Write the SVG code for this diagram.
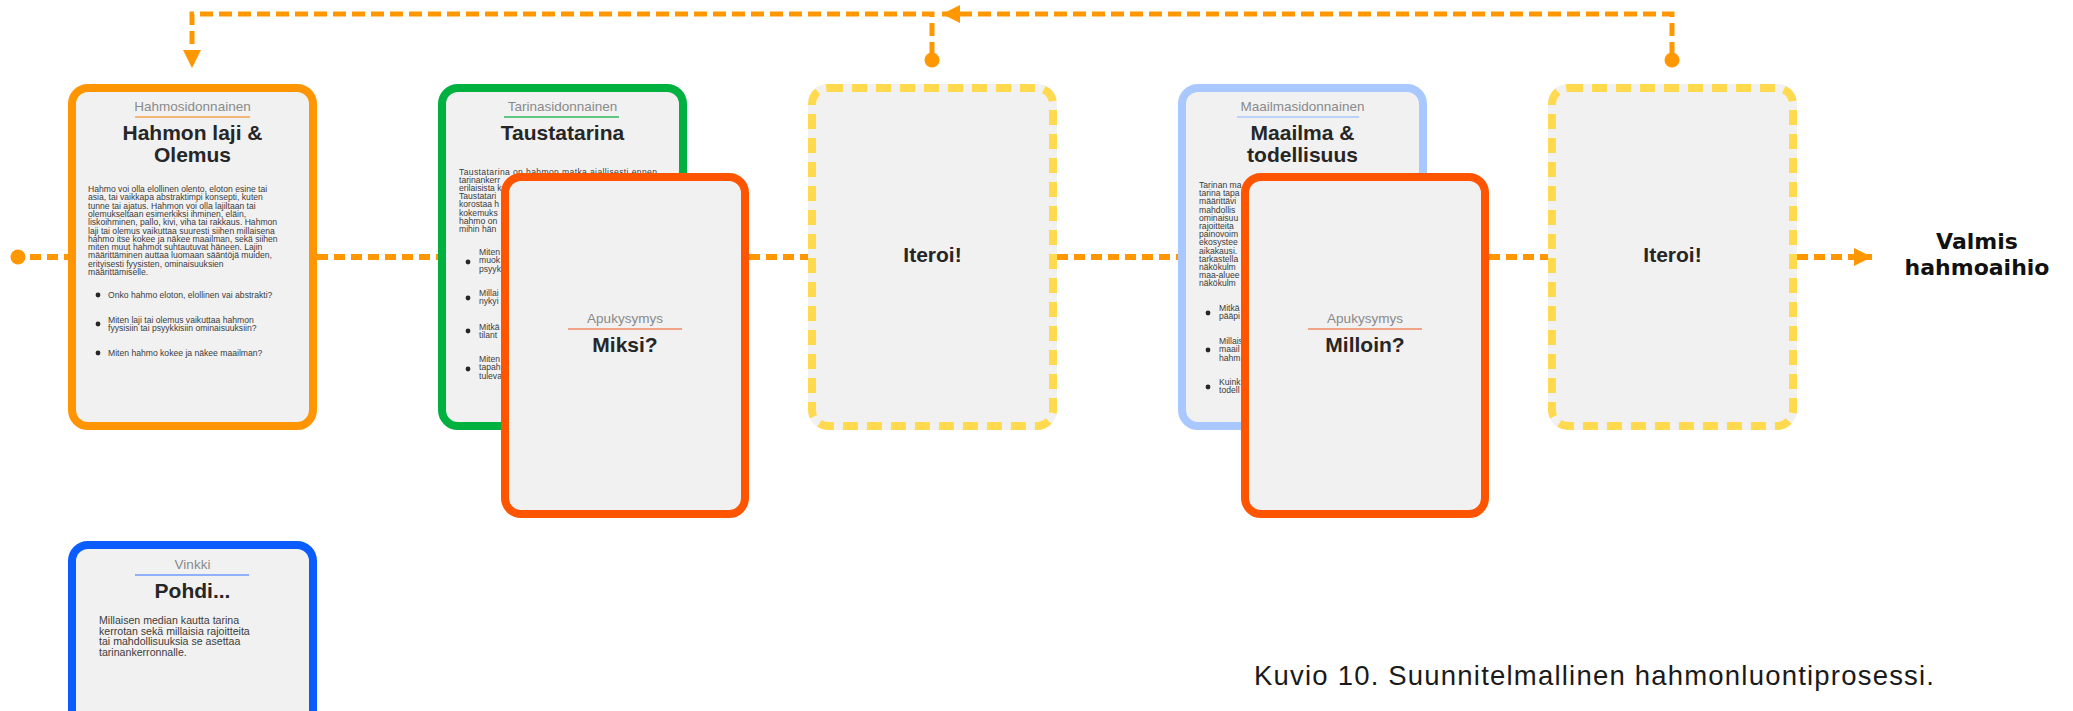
<svg xmlns="http://www.w3.org/2000/svg" width="2073" height="711" viewBox="0 0 2073 711">
<style>
  text { font-family: "Liberation Sans", Arial, sans-serif; }
  .card { fill: #F1F1F1; stroke-width: 8; }
  .bg { fill: #F1F1F1; }
  .sub { font-size: 13.5px; fill: #8a8a8a; text-anchor: middle; }
  .title { font-size: 21px; font-weight: bold; fill: #262626; text-anchor: middle; }
  .body { font-size: 8.6px; fill: #3c3c3c; }
  .tip { font-size: 10.6px; fill: #3c3c3c; }
  .dot { fill: #262626; }
  .rule { stroke-width: 1.3; }
  .iter { fill: none; stroke: #FFDA4F; stroke-width: 8; stroke-dasharray: 15 9; }
  .conn { fill: none; stroke: #FF9800; stroke-width: 6; stroke-dasharray: 11 6; }
  .loop { fill: none; stroke: #FF9800; stroke-width: 5; stroke-dasharray: 13 6; }
  .end { font-family: "DejaVu Sans", sans-serif; font-size: 22px; font-weight: bold; fill: #111; text-anchor: middle; }
</style>
<defs>
  <marker id="arrow" markerUnits="userSpaceOnUse" markerWidth="18" markerHeight="18" viewBox="0 0 16 16" refX="16" refY="8" orient="auto">
    <path d="M0,0 L16,8 L0,16 Z" fill="#FF9800"/>
  </marker>
</defs>

<g id="connectors">
  <circle cx="18" cy="257" r="7.5" fill="#FF9800"/>
  <line class="conn" x1="30" y1="257" x2="70" y2="257"/>
  <line class="conn" x1="317" y1="257" x2="440" y2="257"/>
  <line class="conn" x1="749" y1="257" x2="810" y2="257"/>
  <line class="conn" x1="1057" y1="257" x2="1180" y2="257"/>
  <line class="conn" x1="1489" y1="257" x2="1550" y2="257"/>
  <line class="conn" x1="1797" y1="257" x2="1872" y2="257" marker-end="url(#arrow)"/>
  <circle cx="1672" cy="60" r="7.5" fill="#FF9800"/>
  <path class="loop" d="M1672,55 V14 H942" marker-end="url(#arrow)"/>
  <circle cx="932" cy="60" r="7.5" fill="#FF9800"/>
  <path class="loop" d="M932,55 V14 H192 V68" marker-end="url(#arrow)"/>
</g>

<g id="card-hahmon-laji">
  <rect class="card" x="72" y="88" width="241" height="338" rx="16" stroke="#FF9500"/>
  <text class="sub" x="192.5" y="111">Hahmosidonnainen</text>
  <line class="rule" x1="135" y1="117" x2="250" y2="117" stroke="#F5A24C"/>
  <text class="title" x="192.5" y="140">Hahmon laji &amp;</text>
  <text class="title" x="192.5" y="162">Olemus</text>
  <g class="body">
    <text x="88" y="192">Hahmo voi olla elollinen olento, eloton esine tai</text>
    <text x="88" y="200.3">asia, tai vaikkapa abstraktimpi konsepti, kuten</text>
    <text x="88" y="208.6">tunne tai ajatus. Hahmon voi olla lajiltaan tai</text>
    <text x="88" y="216.9">olemukseltaan esimerkiksi ihminen, eläin,</text>
    <text x="88" y="225.2">liskoihminen, pallo, kivi, viha tai rakkaus. Hahmon</text>
    <text x="88" y="233.5">laji tai olemus vaikuttaa suuresti siihen millaisena</text>
    <text x="88" y="241.8">hahmo itse kokee ja näkee maailman, sekä siihen</text>
    <text x="88" y="250.1">miten muut hahmot suhtautuvat häneen. Lajin</text>
    <text x="88" y="258.4">määrittäminen auttaa luomaan sääntöjä muiden,</text>
    <text x="88" y="266.7">erityisesti fyysisten, ominaisuuksien</text>
    <text x="88" y="275">määrittämiselle.</text>
    <text x="108" y="298">Onko hahmo eloton, elollinen vai abstrakti?</text>
    <text x="108" y="323">Miten laji tai olemus vaikuttaa hahmon</text>
    <text x="108" y="331.4">fyysisiin tai psyykkisiin ominaisuuksiin?</text>
    <text x="108" y="356">Miten hahmo kokee ja näkee maailman?</text>
  </g>
  <circle class="dot" cx="98" cy="295" r="2.4"/>
  <circle class="dot" cx="98" cy="324" r="2.4"/>
  <circle class="dot" cx="98" cy="353" r="2.4"/>
</g>

<g id="card-taustatarina">
  <rect class="card" x="442" y="88" width="241" height="338" rx="16" stroke="#00B140"/>
  <text class="sub" x="562.5" y="111">Tarinasidonnainen</text>
  <line class="rule" x1="504" y1="117" x2="619" y2="117" stroke="#2EB85C"/>
  <text class="title" x="562.5" y="140">Taustatarina</text>
  <g class="body">
    <text x="459" y="174.5" textLength="198" lengthAdjust="spacing">Taustatarina on hahmon matka ajallisesti ennen</text>
    <text x="459" y="182.7">tarinankerr</text>
    <text x="459" y="190.9">erilaisista k</text>
    <text x="459" y="199.1">Taustatari</text>
    <text x="459" y="207.3">korostaa h</text>
    <text x="459" y="215.5">kokemuks</text>
    <text x="459" y="223.7">hahmo on</text>
    <text x="459" y="231.9">mihin hän</text>
    <text x="479" y="255">Miten</text>
    <text x="479" y="263.4">muok</text>
    <text x="479" y="271.8">psyyk</text>
    <text x="479" y="296">Millai</text>
    <text x="479" y="304.4">nykyi</text>
    <text x="479" y="330">Mitkä</text>
    <text x="479" y="338.4">tilant</text>
    <text x="479" y="362">Miten</text>
    <text x="479" y="370.4">tapah</text>
    <text x="479" y="378.8">tuleva</text>
  </g>
  <circle class="dot" cx="468" cy="262" r="2.4"/>
  <circle class="dot" cx="468" cy="298" r="2.4"/>
  <circle class="dot" cx="468" cy="331" r="2.4"/>
  <circle class="dot" cx="468" cy="369" r="2.4"/>
</g>

<g id="card-miksi">
  <rect class="card" x="505" y="177" width="240" height="337" rx="16" stroke="#FF5400"/>
  <text class="sub" x="625" y="323">Apukysymys</text>
  <line class="rule" x1="568" y1="329" x2="682" y2="329" stroke="#F08A60"/>
  <text class="title" x="625" y="352">Miksi?</text>
</g>

<g id="card-iteroi-1">
  <rect class="bg" x="808" y="84" width="249" height="346" rx="20"/>
  <rect class="iter" x="812" y="88" width="241" height="338" rx="16"/>
  <text class="title" x="932.5" y="262">Iteroi!</text>
</g>

<g id="card-maailma">
  <rect class="card" x="1182" y="88" width="241" height="338" rx="16" stroke="#A9C8FF"/>
  <text class="sub" x="1302.5" y="111">Maailmasidonnainen</text>
  <line class="rule" x1="1237" y1="117" x2="1359" y2="117" stroke="#A9C8FF"/>
  <text class="title" x="1302.5" y="140">Maailma &amp;</text>
  <text class="title" x="1302.5" y="162">todellisuus</text>
  <g class="body">
    <text x="1199" y="188">Tarinan ma</text>
    <text x="1199" y="196.2">tarina tapa</text>
    <text x="1199" y="204.4">määrittävi</text>
    <text x="1199" y="212.6">mahdollis</text>
    <text x="1199" y="220.8">ominaisuu</text>
    <text x="1199" y="229">rajoitteita</text>
    <text x="1199" y="237.2">painovoim</text>
    <text x="1199" y="245.4">ekosystee</text>
    <text x="1199" y="253.6">aikakausi.</text>
    <text x="1199" y="261.8">tarkastella</text>
    <text x="1199" y="270">näkökulm</text>
    <text x="1199" y="278.2">maa-aluee</text>
    <text x="1199" y="286.4">näkökulm</text>
    <text x="1219" y="311">Mitkä</text>
    <text x="1219" y="319.4">pääpi</text>
    <text x="1219" y="344">Millais</text>
    <text x="1219" y="352.4">maail</text>
    <text x="1219" y="360.8">hahm</text>
    <text x="1219" y="385">Kuink</text>
    <text x="1219" y="393.4">todell</text>
  </g>
  <circle class="dot" cx="1208" cy="313" r="2.4"/>
  <circle class="dot" cx="1208" cy="350" r="2.4"/>
  <circle class="dot" cx="1208" cy="387" r="2.4"/>
</g>

<g id="card-milloin">
  <rect class="card" x="1245" y="177" width="240" height="337" rx="16" stroke="#FF5400"/>
  <text class="sub" x="1365" y="323">Apukysymys</text>
  <line class="rule" x1="1308" y1="329" x2="1422" y2="329" stroke="#F08A60"/>
  <text class="title" x="1365" y="352">Milloin?</text>
</g>

<g id="card-iteroi-2">
  <rect class="bg" x="1548" y="84" width="249" height="346" rx="20"/>
  <rect class="iter" x="1552" y="88" width="241" height="338" rx="16"/>
  <text class="title" x="1672.5" y="262">Iteroi!</text>
</g>

<g id="end-valmis">
  <text class="end" x="1977" y="249">Valmis</text>
  <text class="end" x="1977" y="275">hahmoaihio</text>
</g>

<g id="card-vinkki">
  <rect class="card" x="72" y="545" width="241" height="338" rx="16" stroke="#0B5CFF"/>
  <text class="sub" x="192.5" y="569">Vinkki</text>
  <line class="rule" x1="135" y1="575" x2="249" y2="575" stroke="#6E9BFF"/>
  <text class="title" x="192.5" y="598">Pohdi...</text>
  <g class="tip">
    <text x="99" y="624">Millaisen median kautta tarina</text>
    <text x="99" y="634.7">kerrotan sekä millaisia rajoitteita</text>
    <text x="99" y="645.4">tai mahdollisuuksia se asettaa</text>
    <text x="99" y="656.1">tarinankerronnalle.</text>
  </g>
</g>

<text id="caption" x="1254" y="685" font-size="27.5" fill="#1a1a1a" textLength="680" lengthAdjust="spacing">Kuvio 10. Suunnitelmallinen hahmonluontiprosessi.</text>
</svg>
